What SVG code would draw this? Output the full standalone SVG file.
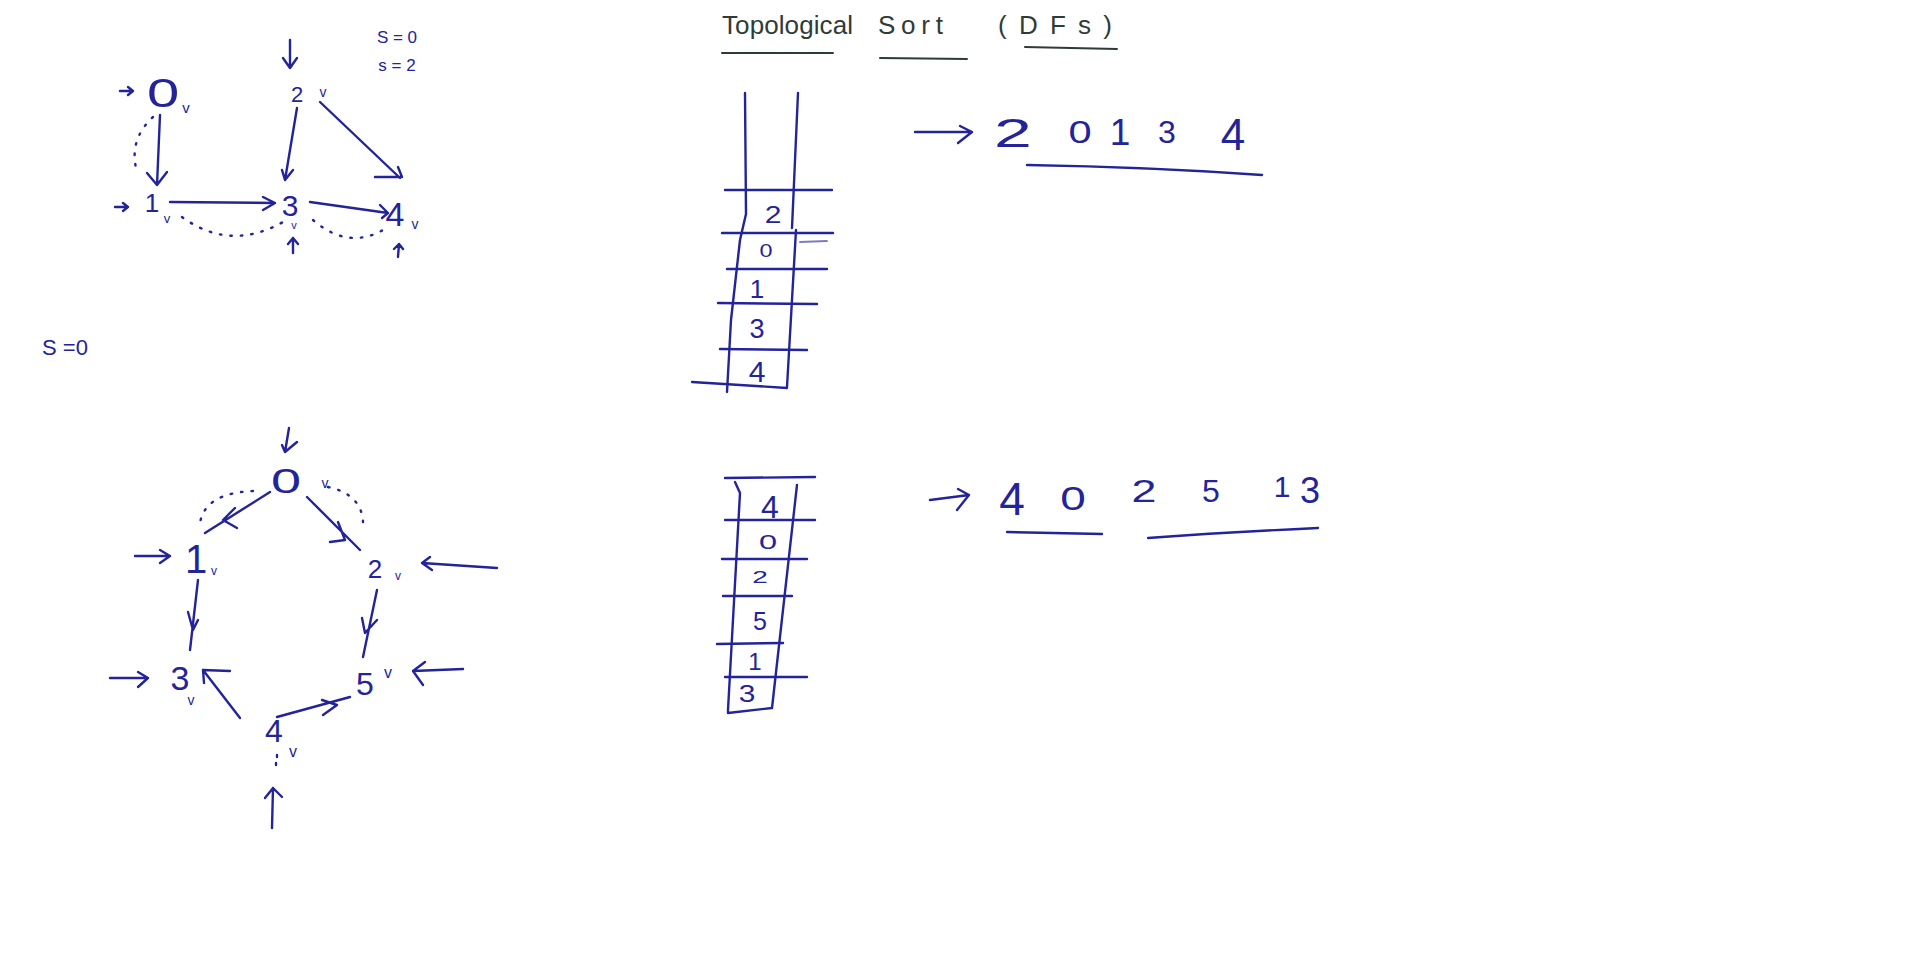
<svg xmlns="http://www.w3.org/2000/svg" width="1920" height="964" viewBox="0 0 1920 964">
<style>
.ink{fill:none;stroke:#23239a;stroke-width:2.4;stroke-linecap:round;stroke-linejoin:round}
.thin{stroke-width:1.8}
.dot{stroke-dasharray:1.5 9}
.t{fill:#23239a;font-family:"Liberation Sans",Arial,sans-serif;text-anchor:middle}
.ttl{fill:#2f3b36;font-family:"Liberation Sans",Arial,sans-serif;font-size:26px}
.ul{fill:none;stroke:#2f3b36;stroke-width:2;stroke-linecap:round}
</style>
<rect width="1920" height="964" fill="#ffffff"/>

<!-- Title -->
<g id="title">
<text class="ttl" x="722" y="34" textLength="131" lengthAdjust="spacing">Topological</text>
<text class="ttl" x="878" y="34" textLength="65" lengthAdjust="spacing">Sort</text>
<text class="ttl" x="998" y="34" textLength="114" lengthAdjust="spacing">(DFs)</text>
<path class="ul" d="M722,53 L833,53 M880,58 L967,59 M1025,47 L1117,49"/>
</g>

<!-- Graph 1 nodes -->
<g id="g1-n0"><text class="t" font-size="40" transform="translate(163,107) scale(1.45,1)">0</text><text class="t" x="186" y="113" font-size="15">v</text></g>
<g id="g1-n1"><text class="t" x="152" y="212" font-size="26">1</text><text class="t" x="167" y="223" font-size="13">v</text></g>
<g id="g1-n2"><text class="t" x="297" y="102" font-size="22">2</text><text class="t" x="323" y="97" font-size="14">v</text></g>
<g id="g1-n3"><text class="t" x="290" y="216" font-size="30">3</text><text class="t" x="294" y="229" font-size="11">v</text></g>
<g id="g1-n4"><text class="t" x="395" y="226" font-size="34">4</text><text class="t" x="415" y="229" font-size="14">v</text></g>
<g id="g1-state"><text class="t" x="397" y="43" font-size="17">S = 0</text><text class="t" x="397" y="71" font-size="17">s = 2</text></g>

<!-- Graph 2 nodes -->
<g id="g2-n0"><text class="t" font-size="36" transform="translate(286,493) scale(1.5,1)">0</text><text class="t" x="325" y="488" font-size="14">v</text></g>
<g id="g2-n1"><text class="t" x="196" y="573" font-size="40">1</text><text class="t" x="214" y="575" font-size="12">v</text></g>
<g id="g2-n2"><text class="t" x="375" y="578" font-size="26">2</text><text class="t" x="398" y="580" font-size="12">v</text></g>
<g id="g2-n3"><text class="t" x="180" y="690" font-size="34">3</text><text class="t" x="191" y="705" font-size="14">v</text></g>
<g id="g2-n4"><text class="t" x="274" y="742" font-size="32">4</text><text class="t" x="293" y="757" font-size="16">v</text></g>
<g id="g2-n5"><text class="t" x="365" y="695" font-size="32">5</text><text class="t" x="388" y="678" font-size="16">v</text></g>
<g id="g2-state"><text class="t" x="65" y="355" font-size="22">S =0</text></g>

<!-- Connectors -->
<g id="connectors" class="ink">
<!-- graph 1 entry arrows -->
<path d="M120,91 L133,91 M128,87 L133,91 L128,95"/>
<path d="M115,207 L128,207 M123,203 L128,207 L123,211"/>
<path d="M290,40 L290,68 M283,58 L290,68 L297,58"/>
<path d="M293,253 L293,238 M288,244 L293,238 L298,244"/>
<path d="M398,257 L399,244 M394,249 L399,244 L403,249"/>
<!-- graph 1 edges -->
<path d="M160,115 L157,185 M147,173 L157,185 L167,172"/>
<path d="M170,202 L275,203 M263,197 L275,203 L263,210"/>
<path d="M297,108 L285,180 M282,170 L285,180 L293,170"/>
<path d="M320,102 L400,178 M375,177 L402,177 L398,167"/>
<path d="M310,202 L388,213 M380,205 L388,213 L382,218"/>
<path class="dot" d="M153,117 Q128,140 137,172"/>
<path class="dot" d="M182,217 Q230,252 283,222"/>
<path class="dot" d="M313,220 Q350,252 388,227"/>
<!-- graph 2 entry arrows -->
<path d="M289,428 L285,452 M282,445 L285,452 L297,442"/>
<path d="M135,556 L170,556 M160,550 L170,556 L160,563"/>
<path d="M497,568 L422,563 M430,557 L422,563 L432,570"/>
<path d="M110,678 L148,678 M138,672 L148,678 L138,687"/>
<path d="M463,669 L413,671 M425,662 L413,671 L423,685"/>
<path d="M272,828 L273,788 M265,798 L273,788 L282,797"/>
<!-- graph 2 edges -->
<path d="M270,492 L205,533 M235,508 L223,520 L237,528"/>
<path d="M307,497 L360,550 M338,522 L345,540 L330,542"/>
<path d="M198,580 L190,650 M188,612 L193,630 L198,620"/>
<path d="M377,590 L363,657 M362,618 L365,633 L377,620"/>
<path d="M240,718 L203,670 M230,671 L203,670 L204,683"/>
<path d="M277,717 L350,697 M322,700 L337,705 L323,715"/>
<path class="dot" d="M253,491 Q205,493 200,523"/>
<path class="dot" d="M328,487 Q365,495 363,528"/>
<path d="M277,755 L277,757 M276,763 L276,765"/>
</g>

<!-- Stack 1 -->
<g id="stack1">
<path class="ink" d="M745,93 L746,214 L740,240 L731,320 L727,392"/>
<path class="ink" d="M798,93 L792,228"/>
<path class="ink" d="M796,230 L787,387"/>
<path class="ink" d="M725,190 L832,190 M722,233 L833,233 M727,269 L827,269 M718,303 L817,304 M720,349 L807,350 M692,382 L787,388"/>
<path class="ink thin" stroke-opacity="0.6" d="M800,242 L827,241"/>
<text class="t" font-size="24" transform="translate(773,223) scale(1.25,1)">2</text>
<text class="t" font-size="18" transform="translate(766,257) scale(1.3,1)">0</text>
<text class="t" x="757" y="298" font-size="26">1</text>
<text class="t" x="757" y="338" font-size="27">3</text>
<text class="t" x="757" y="382" font-size="30">4</text>
</g>

<!-- Result 1 -->
<g id="result1">
<path class="ink" d="M915,132 L972,132 M960,126 L972,132 L958,143"/>
<text class="t" font-size="40" transform="translate(1013,147) scale(1.7,1)">2</text>
<text class="t" font-size="32" transform="translate(1080,143) scale(1.3,1)">0</text>
<text class="t" x="1120" y="145" font-size="37">1</text>
<text class="t" x="1167" y="143" font-size="32">3</text>
<text class="t" x="1233" y="150" font-size="44">4</text>
<path class="ink" d="M1027,165 Q1150,167 1262,175"/>
</g>

<!-- Stack 2 -->
<g id="stack2">
<path class="ink" d="M725,478 L815,477"/>
<path class="ink" d="M735,482 L740,493 L728,710 L728,713 L772,708 L797,485"/>
<path class="ink" d="M725,520 L815,520 M722,559 L807,559 M723,596 L792,596 M717,644 L783,643 M725,677 L807,677"/>
<text class="t" x="770" y="518" font-size="32">4</text>
<text class="t" font-size="21" transform="translate(768,549) scale(1.55,1)">0</text>
<text class="t" font-size="16" transform="translate(760,583) scale(1.75,1)">2</text>
<text class="t" x="760" y="630" font-size="25">5</text>
<text class="t" x="755" y="670" font-size="24">1</text>
<text class="t" font-size="23" transform="translate(747,702) scale(1.3,1)">3</text>
</g>

<!-- Result 2 -->
<g id="result2">
<path class="ink" d="M930,500 L969,495 M958,489 L969,495 L957,510"/>
<text class="t" x="1012" y="515" font-size="46">4</text>
<text class="t" font-size="34" transform="translate(1073,510) scale(1.35,1)">0</text>
<text class="t" font-size="32" transform="translate(1144,502) scale(1.4,1)">2</text>
<text class="t" x="1211" y="502" font-size="32">5</text>
<text class="t" x="1282" y="497" font-size="30">1</text>
<text class="t" x="1310" y="503" font-size="36">3</text>
<path class="ink" d="M1007,532 L1102,534"/>
<path class="ink" d="M1148,538 Q1230,532 1318,528"/>
</g>
</svg>
